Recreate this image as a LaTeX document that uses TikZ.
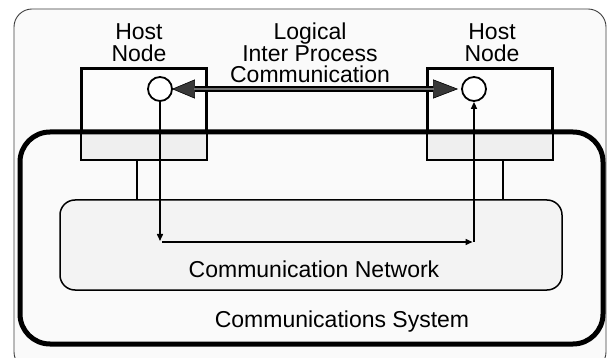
\documentclass[tikz,border=0pt]{standalone}
\usepackage{fontspec}
\setmainfont{Liberation Sans}
\usetikzlibrary{arrows.meta,positioning}
\definecolor{outerfill}{HTML}{FAFAFA}
\definecolor{hostfill}{HTML}{FCFCFC}
\definecolor{lowfill}{HTML}{EFEFEF}
\definecolor{netfill}{HTML}{F3F3F3}
\definecolor{headfill}{HTML}{383838}
\definecolor{shaftgray}{HTML}{6E6E6E}
\tikzset{
  lbl/.style={font=\fontsize{23}{21.5}\selectfont, inner sep=0pt, text=black},
  hostbox/.style={draw=black, line width=1.8pt, minimum width=124pt, minimum height=90pt, inner sep=0pt},
  port/.style={circle, draw=black, line width=1.8pt, fill=white, minimum size=24pt, inner sep=0pt},
  flow/.style={draw=black, line width=1.5pt, -{Triangle[length=7pt,width=6pt]}},
  link/.style={draw=black, line width=1.5pt},
}
\begin{document}
\begin{tikzpicture}[x=1pt,y=-1pt]
\useasboundingbox (0,0) rectangle (608,358);
\clip (0,0) rectangle (608,358);
\fill[white] (0,0) rectangle (608,358);
% outer frame
\draw[draw=black!75, line width=0.9pt, fill=outerfill, rounded corners=18pt] (14,9) rectangle (606,370);
% communications system area fill
\fill[outerfill, rounded corners=30pt] (20,132) rectangle (603,344);
% host boxes
\node[hostbox, fill=hostfill] (hl) at (144,114) {};
\node[hostbox, fill=hostfill] (hr) at (490,114) {};
\fill[lowfill] ([xshift=0.9pt,yshift=0.9pt]hl.south west) rectangle ([xshift=-0.9pt]hl.east |- 0,132);
\fill[lowfill] ([xshift=0.9pt,yshift=0.9pt]hr.south west) rectangle ([xshift=-0.9pt]hr.east |- 0,132);
\draw[line width=1.8pt] (hl.south west) rectangle (hl.north east);
\draw[line width=1.8pt] (hr.south west) rectangle (hr.north east);
% communications system frame
\draw[line width=5pt, rounded corners=30pt] (20,132) rectangle (603,344);
% network
\node[draw=black, line width=1.5pt, fill=netfill, rounded corners=15pt, minimum width=502pt, minimum height=90pt, inner sep=0pt] (net) at (311,245) {};
% attachments
\draw[link] (hl.south -| 137,0) -- (net.north -| 137,0);
\draw[link] (hr.south -| 503,0) -- (net.north -| 503,0);
% ports
\node[port] (cl) at (160,89) {};
\node[port] (cr) at (474,89) {};
% logical IPC arrow
\draw[line width=5.4pt, draw=black,
  {Triangle[length=23pt,width=19pt,color=black,fill=headfill,line width=0.6pt]}-{Triangle[length=25pt,width=19pt,color=black,fill=headfill,line width=0.6pt]}]
  ([xshift=-1pt]cl.east) -- ([xshift=-3pt]cr.west);
\draw[line width=2.2pt, draw=shaftgray, shorten <=22pt, shorten >=24pt] ([xshift=-1pt]cl.east) -- ([xshift=-3pt]cr.west);
% physical path
\coordinate (c1) at (160,242);
\coordinate (c2) at (474,242);
\draw[flow, shorten >=1pt] (cl.south) -- (c1);
\draw[flow, shorten >=1.5pt] ([xshift=2pt]c1) -- (c2);
\draw[flow] (c2) -- (cr.south);
% labels
\node[lbl, anchor=base] (hlt1) at (139,40) {Host};
\node[lbl, anchor=base] (hlt2) at (139,62) {Node};
\node[lbl, anchor=base] (hrt1) at (492,40) {Host};
\node[lbl, anchor=base] (hrt2) at (492,62) {Node};
\node[lbl, anchor=base] (ipc1) at (310,40) {Logical};
\node[lbl, anchor=base] (ipc2) at (310,61.5) {Inter Process};
\node[lbl, anchor=base] (ipc3) at (310,82.5) {Communication};
\node[lbl, anchor=base] (netl) at (314,277) {Communication Network};
\node[lbl, anchor=base] (sysl) at (342,327) {Communications System};
\end{tikzpicture}
\end{document}
